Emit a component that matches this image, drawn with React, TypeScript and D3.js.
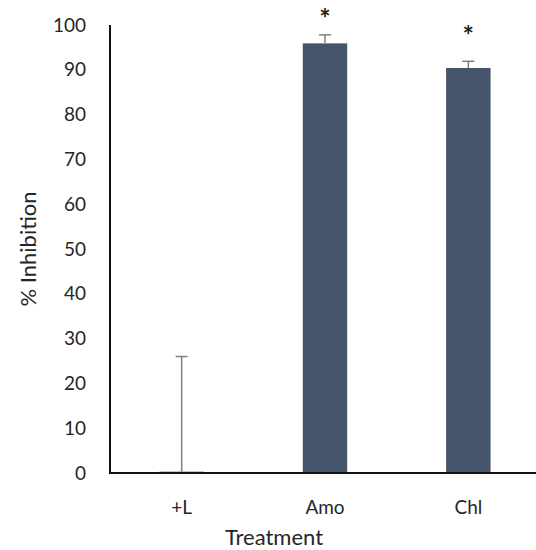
import React, { useEffect, useRef } from 'react';
import * as d3 from 'd3';

const categories = ['+L', 'Amo', 'Chl'];
const values = [0.3, 95.9, 90.4];
const errors = [25.7, 1.9, 1.5];
const significant = [false, true, true];
const starLevels = [0, 102.7, 98.9];
const yTicks = [0, 10, 20, 30, 40, 50, 60, 70, 80, 90, 100];

function App() {
  const ref = useRef<SVGSVGElement>(null);

  useEffect(() => {
    const width = 536;
    const height = 550;
    const margin = { top: 25, right: -4, bottom: 77, left: 110 };
    const font = 'Lato, "Open Sans", sans-serif';

    const svg = d3.select(ref.current);
    svg.selectAll('*').remove();
    svg.attr('width', width).attr('height', height);

    const x = d3.scaleBand()
      .domain(categories)
      .range([margin.left, width - margin.right])
      .paddingInner(0.69)
      .paddingOuter(0.345);
    const y = d3.scaleLinear().domain([0, 100]).range([height - margin.bottom, margin.top]);

    const data = categories.map((c, i) => ({ c, v: values[i], e: errors[i], sig: significant[i], s: starLevels[i] }));

    // bars
    svg.append('g').selectAll('rect')
      .data(data)
      .enter()
      .append('rect')
      .attr('x', d => x(d.c)!)
      .attr('y', d => y(d.v))
      .attr('width', x.bandwidth())
      .attr('height', d => y(0) - y(d.v))
      .attr('fill', '#44546a');

    // error bars (upper only)
    const eb = svg.append('g').attr('stroke', '#7f7f7f').attr('stroke-width', 1.5);
    data.forEach(d => {
      const cx = x(d.c)! + x.bandwidth() / 2;
      eb.append('line').attr('x1', cx).attr('x2', cx).attr('y1', y(d.v)).attr('y2', y(d.v + d.e));
      eb.append('line').attr('x1', cx - 6).attr('x2', cx + 6).attr('y1', y(d.v + d.e)).attr('y2', y(d.v + d.e));
    });

    // significance stars
    svg.append('g').selectAll('text')
      .data(data.filter(d => d.sig))
      .enter()
      .append('text')
      .attr('x', d => x(d.c)! + x.bandwidth() / 2)
      .attr('y', d => y(d.s) + 15)
      .attr('text-anchor', 'middle')
      .style('font-family', font)
      .style('font-size', '27px')
      .style('font-weight', 'bold')
      .attr('fill', '#222')
      .text('*');

    // y tick labels
    svg.append('g').selectAll('text')
      .data(yTicks)
      .enter()
      .append('text')
      .attr('x', margin.left - 24)
      .attr('y', d => y(d))
      .attr('dy', '0.35em')
      .attr('text-anchor', 'end')
      .style('font-family', font)
      .style('font-size', '19px')
      .attr('fill', '#262626')
      .text(d => d);

    // x tick labels
    svg.append('g').selectAll('text')
      .data(categories)
      .enter()
      .append('text')
      .attr('x', d => x(d)! + x.bandwidth() / 2)
      .attr('y', height - margin.bottom + 34)
      .attr('dy', '0.35em')
      .attr('text-anchor', 'middle')
      .style('font-family', font)
      .style('font-size', '19px')
      .attr('fill', '#262626')
      .text(d => d);

    // axes lines
    svg.append('line')
      .attr('x1', margin.left).attr('x2', margin.left)
      .attr('y1', y(100)).attr('y2', y(0))
      .attr('stroke', '#111').attr('stroke-width', 2);
    svg.append('line')
      .attr('x1', margin.left - 1).attr('x2', width)
      .attr('y1', y(0)).attr('y2', y(0))
      .attr('stroke', '#111').attr('stroke-width', 2);

    // axis titles
    svg.append('text')
      .attr('x', (margin.left + width) / 2 - 49)
      .attr('y', height - 13)
      .attr('dy', '0.35em')
      .attr('text-anchor', 'middle')
      .style('font-family', font)
      .style('font-size', '22px')
      .attr('fill', '#262626')
      .text('Treatment');

    svg.append('text')
      .attr('transform', `translate(28, ${(y(0) + y(100)) / 2}) rotate(-90)`)
      .attr('dy', '0.35em')
      .attr('text-anchor', 'middle')
      .style('font-family', font)
      .style('font-size', '22px')
      .attr('fill', '#262626')
      .text('% Inhibition');
  }, []);

  return <svg ref={ref} style={{ position: 'absolute', left: 0, top: 0, background: '#fff' }} />;
}

export default App;
